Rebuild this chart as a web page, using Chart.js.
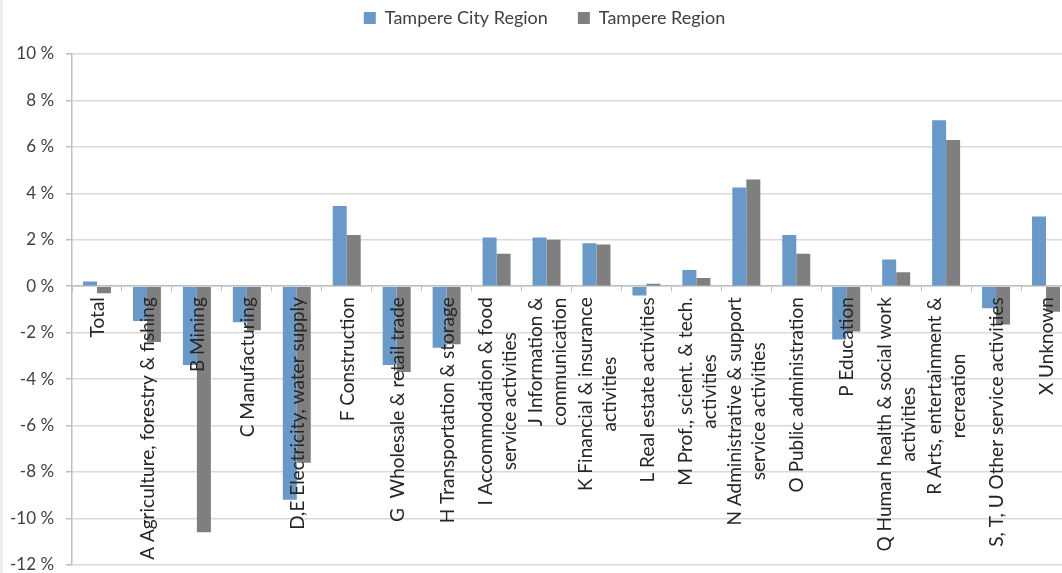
<!DOCTYPE html>
<html>
<head>
<meta charset="utf-8">
<script src="https://cdn.jsdelivr.net/npm/chart.js@4.4.0/dist/chart.umd.min.js"></script>
<style>
  html, body { margin: 0; padding: 0; background: #ffffff; overflow: hidden; }
  #strip { position: absolute; left: 0; top: 0; width: 3px; height: 573px; background: #eeeeee; z-index: 2; }
  #wrap { position: absolute; left: 0; top: 0; width: 1092px; height: 587px; }
</style>
</head>
<body>
<div id="strip"></div>
<div id="wrap"><canvas id="c"></canvas></div>
<script>
const categories = [
  ["Total"],
  ["A Agriculture, forestry & fishing"],
  ["B Mining"],
  ["C Manufacturing"],
  ["D,E Electricity, water supply"],
  ["F Construction"],
  ["G  Wholesale & retail trade"],
  ["H Transportation & storage"],
  ["I Accommodation & food", "service activities"],
  ["J Information &", "communication"],
  ["K Financial & insurance", "activities"],
  ["L Real estate activities"],
  ["M Prof., scient. & tech.", "activities"],
  ["N Administrative & support", "service activities"],
  ["O Public administration"],
  ["P Education"],
  ["Q Human health & social work", "activities"],
  ["R Arts, entertainment &", "recreation"],
  ["S, T, U Other service activities"],
  ["X Unknown"]
];
const seriesNames = ["Tampere City Region", "Tampere Region"];
const cityRegion = [0.2, -1.5, -3.4, -1.55, -9.2, 3.45, -3.4, -2.65, 2.1, 2.1, 1.85, -0.4, 0.7, 4.25, 2.2, -2.3, 1.15, 7.15, -0.95, 3.0];
const tampereRegion = [-0.3, -2.4, -10.6, -1.9, -7.6, 2.2, -3.7, -2.5, 1.4, 2.0, 1.8, 0.1, 0.35, 4.6, 1.4, -1.95, 0.6, 6.3, -1.65, -1.1];
const yTicks = [-12, -10, -8, -6, -4, -2, 0, 2, 4, 6, 8, 10];

const FONT = "Lato, 'Open Sans', sans-serif";

const legendHeightPlugin = {
  id: 'legendHeight',
  beforeInit(chart) {
    const lg = chart.legend;
    const fit = lg.fit;
    lg.fit = function () { fit.call(lg); lg.height = 75; };
  },
  afterLayout(chart) {
    const lg = chart.legend;
    lg.left += 10; lg.right += 10;
  }
};

const catLabelPlugin = {
  id: 'catLabels',
  afterDatasetsDraw(chart) {
    const xs = chart.scales.x, ys = chart.scales.y;
    const ctx = chart.ctx;
    const y0 = ys.getPixelForValue(0) + 11;
    const lh = 24;
    ctx.save();
    ctx.font = "19px " + FONT;
    ctx.fillStyle = "#262626";
    ctx.textBaseline = "middle";
    ctx.textAlign = "center";
    categories.forEach((lines, i) => {
      const x = xs.getPixelForValue(i);
      let w = 0;
      lines.forEach(l => { w = Math.max(w, ctx.measureText(l).width); });
      ctx.save();
      ctx.translate(x, y0);
      ctx.rotate(-Math.PI / 2);
      const n = lines.length;
      lines.forEach((l, j) => {
        ctx.fillText(l, -w / 2, (j - (n - 1) / 2) * lh + 1);
      });
      ctx.restore();
    });
    ctx.restore();
  }
};

new Chart(document.getElementById('c'), {
  type: 'bar',
  data: {
    labels: categories.map(c => c.join(' ')),
    datasets: [
      { label: seriesNames[0], data: cityRegion, backgroundColor: '#6899c8', categoryPercentage: 0.56, barPercentage: 1.0 },
      { label: seriesNames[1], data: tampereRegion, backgroundColor: '#7f7f7f', categoryPercentage: 0.56, barPercentage: 1.0 }
    ]
  },
  options: {
    responsive: true,
    maintainAspectRatio: false,
    animation: false,
    layout: { padding: { left: -2, right: 21, top: -21, bottom: 0 } },
    plugins: {
      legend: {
        position: 'top',
        labels: {
          font: { family: FONT, size: 18 },
          color: '#404040',
          boxWidth: 12,
          boxHeight: 12,
          padding: 30
        }
      },
      tooltip: { enabled: false }
    },
    scales: {
      x: {
        position: { y: 0 },
        offset: true,
        grid: { display: true, drawOnChartArea: false, offset: true, tickLength: 5, color: '#bfbfbf' },
        border: { display: true, color: '#bfbfbf', width: 1.5 },
        ticks: { display: false }
      },
      y: {
        min: -12,
        max: 10,
        afterBuildTicks(scale) { scale.ticks = yTicks.map(v => ({ value: v })); },
        grid: { color: '#d9d9d9', lineWidth: 1.5, tickLength: 6, tickColor: '#bfbfbf' },
        border: { display: true, color: '#bfbfbf', width: 1.5 },
        ticks: {
          font: { family: FONT, size: 17 },
          color: '#404040',
          padding: 12,
          callback: v => v + ' %'
        }
      }
    }
  },
  plugins: [legendHeightPlugin, catLabelPlugin]
});
</script>
</body>
</html>
